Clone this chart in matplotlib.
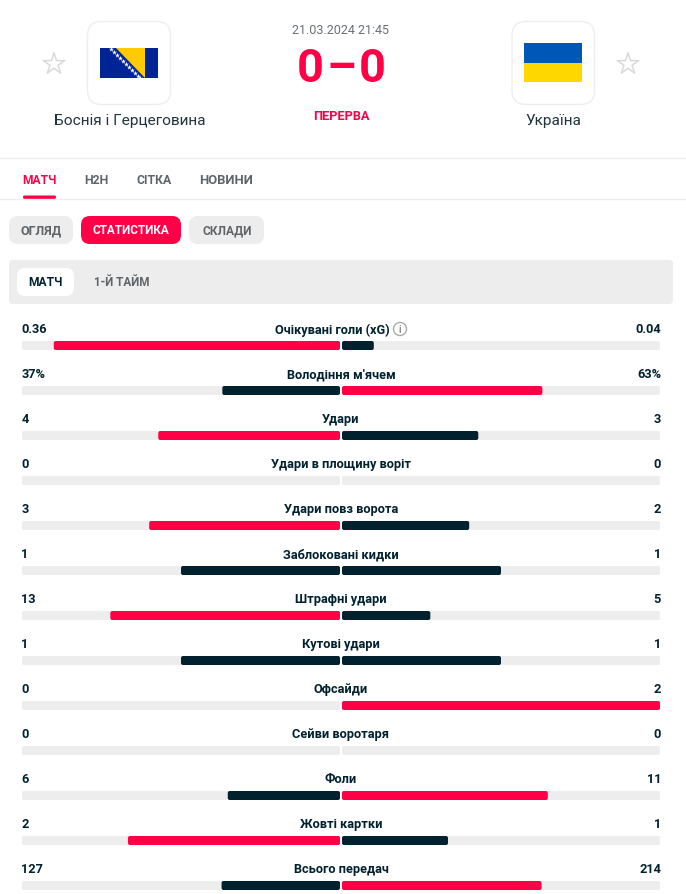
import matplotlib
matplotlib.use('Agg')
import matplotlib.pyplot as plt
from matplotlib.patches import FancyBboxPatch, Rectangle, Polygon, Circle

stat_names = ['Очікувані голи (xG)', 'Володіння м\'ячем', 'Удари', 'Удари в площину воріт',
              'Удари повз ворота', 'Заблоковані кидки', 'Штрафні удари', 'Кутові удари',
              'Офсайди', 'Сейви воротаря', 'Фоли', 'Жовті картки', 'Всього передач']
home_values = [0.36, 37, 4, 0, 3, 1, 13, 1, 0, 0, 6, 2, 127]
away_values = [0.04, 63, 3, 0, 2, 1, 5, 1, 2, 0, 11, 1, 214]
home_labels = ['0.36', '37%', '4', '0', '3', '1', '13', '1', '0', '0', '6', '2', '127']
away_labels = ['0.04', '63%', '3', '0', '2', '1', '5', '1', '2', '0', '11', '1', '214']

RED = '#ff0046'
DARK = '#01212e'
GREY = '#ededed'
TAB = '#5f6468'

plt.rcParams['font.family'] = ['Roboto', 'DejaVu Sans']

fig = plt.figure(figsize=(6.86, 8.95), dpi=100)
ax = fig.add_axes([0, 0, 1, 1])
ax.set_xlim(0, 686)
ax.set_ylim(894, -1)
ax.axis('off')


def rbox(x0, y0, x1, y1, r, fc, ec='none', lw=0, z=1):
    ax.add_patch(FancyBboxPatch((x0 + r, y0 + r), x1 - x0 - 2 * r, y1 - y0 - 2 * r,
                                boxstyle='round,pad=%s,rounding_size=%s' % (r, r),
                                fc=fc, ec=ec, lw=lw, zorder=z))


def txt(x, y, s, px, color=DARK, ha='center', weight='medium', **kw):
    ax.text(x, y, s, fontsize=px * 0.72, color=color, ha=ha, va='center', weight=weight, **kw)


# header
rbox(87.5, 21.5, 170.5, 104.5, 14, 'white', '#eeeeee', 1)
rbox(512, 21.5, 594.5, 104.5, 14, 'white', '#eeeeee', 1)
ax.scatter([54, 628], [64, 64], marker='*', s=260, facecolor='none', edgecolor='#d9d9d9', lw=1.1)

ax.add_patch(Rectangle((100, 48), 58, 30, fc='#002395', zorder=2))
ax.add_patch(Polygon([(116, 48), (144.5, 48), (144.5, 78)], fc='#fecb00', zorder=3))
ax.scatter([110.5, 113.5, 116.5, 119.5, 122.5, 125.5, 128.5, 131.5, 134.5, 137.5, 140],
           [49, 52, 55, 58, 61, 64, 67, 70, 73, 76, 78], marker='*', s=14, color='white', lw=0, zorder=4)
ax.add_patch(Rectangle((524, 43), 58, 19.5, fc='#0057b7', zorder=2))
ax.add_patch(Rectangle((524, 62.5), 58, 19.5, fc='#ffd700', zorder=2))

txt(341, 29, '21.03.2024 21:45', 12.5, '#6b6f72', weight='normal')
for x, s in [(310, '0'), (341.5, '–'), (372.5, '0')]:
    txt(x, 68, s, 47, RED, weight='bold')
txt(341, 115, 'ПЕРЕРВА', 12.8, RED, weight='bold')
txt(129.5, 120, 'Боснія і Герцеговина', 15.4, '#22343c', weight='normal')
txt(553, 120, 'Україна', 15.4, '#22343c', weight='normal')

# tabs
ax.plot([0, 686], [157.8, 157.8], color='#eeeeee', lw=1)
ax.plot([0, 686], [198.6, 198.6], color='#eeeeee', lw=1)
rbox(23, 195.5, 56, 199, 1.5, RED)
for x, s, c, px in [(39.5, 'МАТЧ', RED, 12), (96.5, 'H2H', TAB, 12.3),
                    (154, 'СІТКА', TAB, 12.3), (226, 'НОВИНИ', TAB, 13)]:
    txt(x, 179, s, px, c, weight='bold')

# pills
rbox(9, 216, 73, 244, 9, GREY)
rbox(81, 216, 181, 244, 9, RED)
rbox(189, 216, 264, 244, 9, GREY)
txt(41, 230, 'ОГЛЯД', 12.5, TAB, weight='bold')
txt(131, 230, 'СТАТИСТИКА', 11.8, 'white', weight='bold')
txt(227, 230, 'СКЛАДИ', 12, TAB, weight='bold')

rbox(9, 260, 673, 304, 4, GREY)
rbox(17, 268, 74, 296, 8, 'white', z=2)
txt(45.5, 282, 'МАТЧ', 12, DARK, weight='bold', zorder=3)
txt(122, 282, '1-Й ТАЙМ', 11.6, TAB, weight='bold', zorder=3)

# stat rows
LEFT, MID_L, MID_R, RIGHT = 22, 340, 342, 660
for i, name in enumerate(stat_names):
    ty = 329 + 45 * i
    by0, by1 = 341 + 45 * i, 350 + 45 * i
    h, a = home_values[i], away_values[i]
    total = h + a
    txt(21.5, ty, home_labels[i], 12.8, ha='left', weight='bold')
    txt(661, ty, away_labels[i], 12.8, ha='right', weight='bold')
    # the xG label sits left of centre to leave room for its info icon
    txt(332.5 if i == 0 else 341, ty, name, 12.8, weight='bold')
    rbox(LEFT, by0, MID_L, by1, 2, GREY)
    rbox(MID_R, by0, RIGHT, by1, 2, GREY)
    if total == 0:
        continue
    if h:
        rbox(MID_L - (MID_L - LEFT) * h / total, by0, MID_L, by1, 2, RED if h > a else DARK, z=2)
    if a:
        rbox(MID_R, by0, MID_R + (RIGHT - MID_R) * a / total, by1, 2, RED if a > h else DARK, z=2)

# xG info icon
ax.add_patch(Circle((400, 329), 6.5, fc='white', ec='#a9a9a9', lw=1))
txt(400, 329, 'i', 10, '#8f8f8f', weight='bold')

fig.savefig('out.png', dpi=100)
